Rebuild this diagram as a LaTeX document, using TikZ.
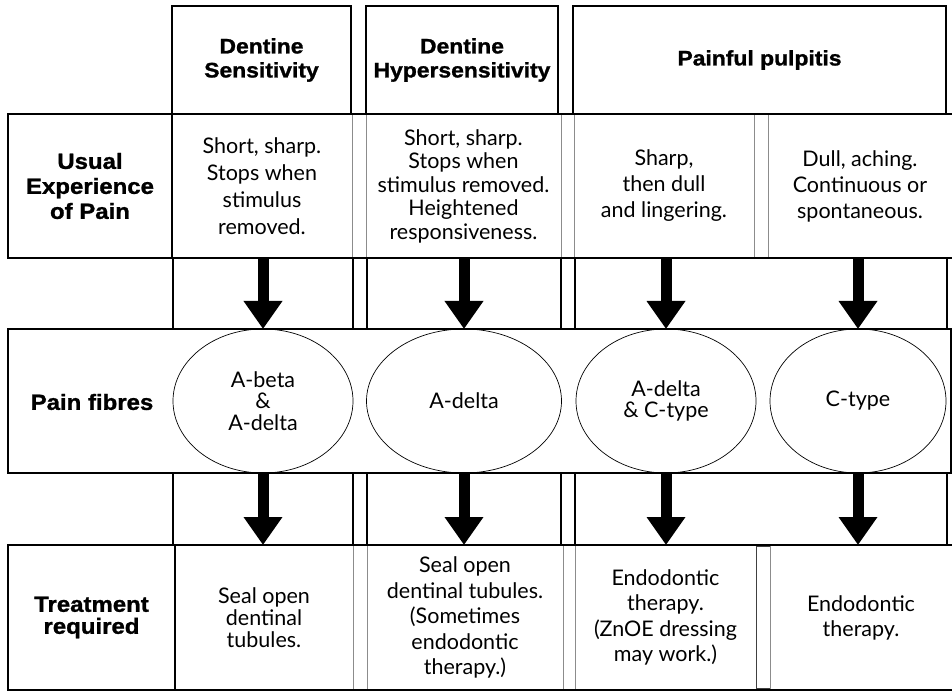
\documentclass[tikz,border=0pt]{standalone}
\usepackage{fontspec}
\setmainfont{Lato}
\newfontfamily\hb[FakeStretch=1.09,FakeBold=1.2]{Liberation Sans}
\usetikzlibrary{arrows.meta,shapes.geometric}
\tikzset{
  thickbox/.style={draw=black, line width=1.8pt, inner sep=0pt, outer sep=0pt, anchor=north west},
  thinbox/.style={draw=black!45, line width=0.7pt, inner sep=0pt, outer sep=0pt, anchor=north west},
  thickline/.style={draw=black, line width=1.8pt},
  lab/.style={font=\hb\bfseries\fontsize{21}{24}\selectfont, align=center},
  sidelab/.style={font=\hb\bfseries\fontsize{22}{25}\selectfont, align=center},
  body/.style={font=\fontsize{21.5}{25}\selectfont, align=center},
  fibre/.style={ellipse, draw=black, line width=0.7pt, inner sep=0pt, outer sep=0pt, minimum height=144pt, align=center, font=\fontsize{21.5}{21.5}\selectfont},
  downarrow/.style={line width=11pt, -{Triangle[length=28pt,width=37pt]}}
}
\begin{document}
\begin{tikzpicture}[x=1pt,y=-1pt]
\useasboundingbox (0,0) rectangle (952,692);
\fill[white] (0,0) rectangle (952,692);

% headers
\node[thickbox, lab, minimum width=179pt, minimum height=108pt] (h1) at (172,6) {Dentine\\Sensitivity};
\node[thickbox, lab, minimum width=192pt, minimum height=108pt] (h2) at (366,6) {Dentine\\Hypersensitivity};
\node[thickbox, lab, minimum width=373pt, minimum height=108pt] (h3) at (573,6) {Painful pulpitis};

% row 1
\node[thinbox, body, minimum width=180pt, minimum height=144pt, font=\fontsize{21.5}{27}\selectfont] (c1) at (172,114) {Short, sharp.\\Stops when\\stimulus\\removed.};
\node[thinbox, minimum width=14pt, minimum height=144pt] (g1) at (352,114) {};
\node[thinbox, body, minimum width=195pt, minimum height=144pt, font=\fontsize{21.5}{23.5}\selectfont] (c2) at (366,114) {Short, sharp.\\Stops when\\stimulus removed.\\Heightened\\responsiveness.};
\node[thinbox, minimum width=13pt, minimum height=144pt] (g2) at (561,114) {};
\node[thinbox, body, minimum width=180pt, minimum height=144pt, font=\fontsize{21.5}{26}\selectfont] (c3a) at (574,114) {Sharp,\\then dull\\and lingering.};
\node[thinbox, minimum width=14pt, minimum height=144pt] (g3) at (754,114) {};
\node[thinbox, body, minimum width=184pt, minimum height=144pt, font=\fontsize{21.5}{26}\selectfont] (c3b) at (768,114) {Dull, aching.\\Continuous or\\spontaneous.};
\node[thickbox, sidelab, minimum width=164pt, minimum height=144pt] (L1) at (8,114) {Usual\\Experience\\of Pain};
\draw[thickline] (L1.north west) -- (c3b.north east);
\draw[thickline] (L1.south west) -- (c3b.south east);

% row 2 (arrow band)
\node[thickbox, minimum width=180pt, minimum height=71pt] (b1) at (173,258) {};
\node[thickbox, minimum width=14pt, minimum height=71pt] (bg1) at (353,258) {};
\node[thickbox, minimum width=194pt, minimum height=71pt] (b2) at (367,258) {};
\node[thickbox, minimum width=14pt, minimum height=71pt] (bg2) at (561,258) {};
\node[thickbox, minimum width=372pt, minimum height=71pt] (b3) at (575,258) {};
\node[thickbox, minimum width=10pt, minimum height=71pt] (bg3) at (947,258) {};

% row 3 (pain fibres)
\node[thickbox, minimum width=943pt, minimum height=144pt] (L3) at (8,329) {};
\node[sidelab] (pf) at (92,402) {Pain fibres};
\node[fibre, minimum width=180pt] (E1) at (263,401) {A-beta\\\&\\A-delta};
\node[fibre, minimum width=195pt] (E2) at (464,401) {A-delta};
\node[fibre, minimum width=180pt] (E3) at (666,401) {A-delta\\\& C-type};
\node[fibre, minimum width=176pt] (E4) at (858,401) {C-type};

% row 4 (arrow band)
\node[thickbox, minimum width=180pt, minimum height=72pt] (k1) at (173,473) {};
\node[thickbox, minimum width=14pt, minimum height=72pt] (kg1) at (353,473) {};
\node[thickbox, minimum width=194pt, minimum height=72pt] (k2) at (367,473) {};
\node[thickbox, minimum width=14pt, minimum height=72pt] (kg2) at (561,473) {};
\node[thickbox, minimum width=372pt, minimum height=72pt] (k3) at (575,473) {};
\node[thickbox, minimum width=10pt, minimum height=72pt] (kg3) at (947,473) {};

% row 5 (treatment)
\node[thinbox, body, minimum width=178pt, minimum height=145pt, font=\fontsize{21.5}{22}\selectfont] (d1) at (175,545) {Seal open\\dentinal\\tubules.};
\node[thinbox, minimum width=14pt, minimum height=145pt] (dg1) at (353,545) {};
\node[thinbox, body, minimum width=196pt, minimum height=145pt, font=\fontsize{21.5}{25.5}\selectfont] (d2) at (367,545) {Seal open\\dentinal tubules.\\(Sometimes\\endodontic\\therapy.)};
\node[thinbox, minimum width=12pt, minimum height=145pt] (dg2) at (563,545) {};
\node[thinbox, body, minimum width=181pt, minimum height=145pt, font=\fontsize{21.5}{25.5}\selectfont] (d3a) at (575,545) {Endodontic\\therapy.\\(ZnOE dressing\\may work.)};
\node[thinbox, draw=black!75, minimum width=14pt, minimum height=142pt] (dg3) at (756,546) {};
\node[thinbox, body, minimum width=182pt, minimum height=145pt, font=\fontsize{21.5}{25}\selectfont] (d3b) at (770,545) {Endodontic\\therapy.};
\node[thickbox, sidelab, minimum width=167pt, minimum height=145pt, font=\hb\bfseries\fontsize{22}{22}\selectfont] (L5) at (8,545) {Treatment\\required};
\draw[thickline] (L5.north west) -- (d3b.north east);
\draw[thickline] (L5.south west) -- (d3b.south east);

% arrows
\draw[downarrow] (E1.north |- c1.south) -- (E1.north);
\draw[downarrow] (E2.north |- c2.south) -- (E2.north);
\draw[downarrow] (E3.north |- c3a.south) -- (E3.north);
\draw[downarrow] (E4.north |- c3b.south) -- (E4.north);
\draw[downarrow] (E1.south) -- (E1.south |- d1.north);
\draw[downarrow] (E2.south) -- (E2.south |- d2.north);
\draw[downarrow] (E3.south) -- (E3.south |- d3a.north);
\draw[downarrow] (E4.south) -- (E4.south |- d3b.north);
\end{tikzpicture}
\end{document}
